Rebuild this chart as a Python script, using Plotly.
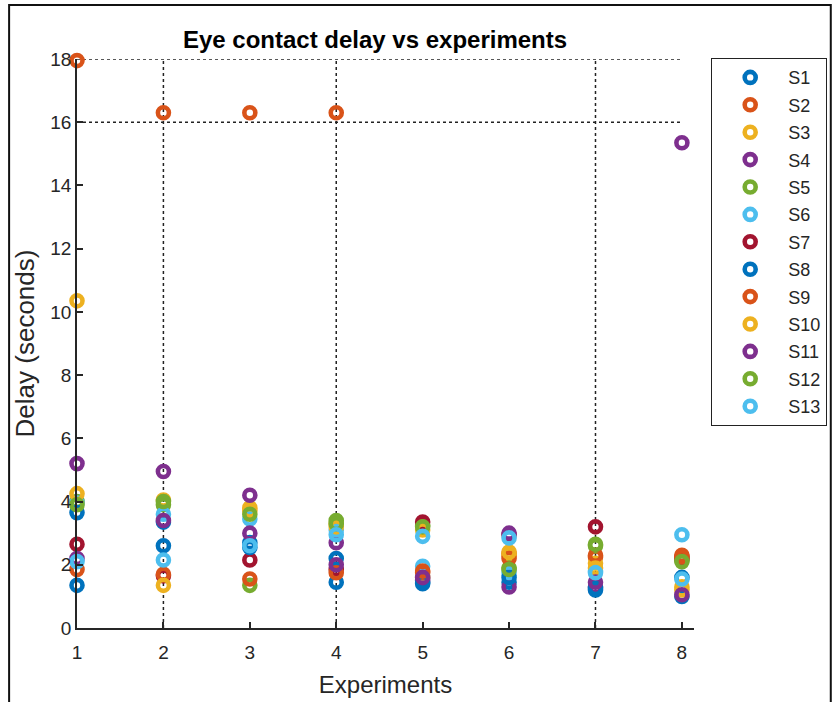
import plotly.graph_objects as go

# Experiment index on the x axis
experiments = [1, 2, 3, 4, 5, 6, 7, 8]

# Eye contact delay (seconds) per subject, one value per experiment
S1 = [1.35, 3.35, 2.70, 1.45, 1.40, 1.45, 1.20, 1.60]
S2 = [17.95, 16.30, 16.30, 16.30, 1.75, 2.35, 2.25, 2.30]
S3 = [10.35, 4.05, 3.80, 3.30, 1.60, 2.30, 2.05, 1.30]
S4 = [5.20, 4.95, 4.20, 2.70, 1.50, 1.30, 1.30, 15.35]
S5 = [4.00, 3.90, 1.35, 3.40, 3.25, 1.90, 2.60, 2.15]
S6 = [3.95, 3.60, 3.45, 3.10, 1.95, 1.75, 1.80, 2.95]
S7 = [2.65, 1.65, 2.15, 1.85, 3.35, 2.95, 3.20, 2.20]
S8 = [3.65, 2.60, 2.55, 2.20, 1.45, 1.60, 1.25, 1.00]
S9 = [1.85, 1.70, 1.55, 1.75, 1.80, 2.20, 2.30, 2.25]
S10 = [4.25, 1.35, 3.70, 3.20, 3.10, 2.40, 1.90, 1.20]
S11 = [2.20, 3.40, 3.00, 2.00, 1.60, 3.00, 1.45, 1.05]
S12 = [3.90, 4.00, 3.60, 3.30, 3.20, 1.85, 2.65, 2.10]
S13 = [2.10, 2.15, 2.60, 2.95, 2.90, 2.85, 1.75, 1.55]

subject_names = ["S1", "S2", "S3", "S4", "S5", "S6", "S7",
                 "S8", "S9", "S10", "S11", "S12", "S13"]
subject_values = [S1, S2, S3, S4, S5, S6, S7, S8, S9, S10, S11, S12, S13]

# Dotted reference lines
ref_y_levels = [16, 18]
ref_x_positions = [2, 4, 7]

y_ticks = [0, 2, 4, 6, 8, 10, 12, 14, 16, 18]

palette = ["#0072BD", "#D95319", "#EDB120", "#7E2F8E",
           "#77AC30", "#4DBEEE", "#A2142F"]

FONT = "Liberation Sans, Arial, sans-serif"
INK = "#262626"

fig = go.Figure()
for i, (name, vals) in enumerate(zip(subject_names, subject_values)):
    c = palette[i % len(palette)]
    fig.add_trace(go.Scatter(
        x=experiments, y=vals, mode="markers", name=name,
        legendgroup=name,
        cliponaxis=False,
        marker=dict(symbol="circle-open", size=11, color=c,
                    line=dict(width=4.6, color=c)),
    ))

# Plot-area geometry (pixels)
L, T, W, H = 77, 59, 618, 569
FIG_W, FIG_H = 838, 702

shapes = []
for yv in ref_y_levels:
    shapes.append(dict(type="line", xref="x", yref="y", x0=1, x1=8, y0=yv, y1=yv,
                       line=dict(color="#222222", width=1.5, dash="dot"), layer="below"))
for xv in ref_x_positions:
    shapes.append(dict(type="line", xref="x", yref="y", x0=xv, x1=xv, y0=0, y1=18,
                       line=dict(color="#222222", width=1.5, dash="dot"), layer="below"))

# Outer frame around the whole figure
def px_to_paper_x(px):
    return (px - L) / W

def px_to_paper_y(py):
    return (T + H - py) / H

shapes.append(dict(type="rect", xref="paper", yref="paper",
                   x0=px_to_paper_x(9), x1=px_to_paper_x(832),
                   y0=px_to_paper_y(712), y1=px_to_paper_y(5),
                   line=dict(color="#111111", width=2), fillcolor="rgba(0,0,0,0)"))

fig.update_layout(
    width=FIG_W, height=FIG_H,
    margin=dict(l=L, r=FIG_W - L - W, t=T, b=FIG_H - T - H),
    paper_bgcolor="white", plot_bgcolor="white",
    font=dict(family=FONT, color=INK, size=18),
    title=dict(text="<b>Eye contact delay vs experiments</b>",
               x=375 / FIG_W, xref="container", xanchor="center",
               y=1 - 40 / FIG_H, yref="container", yanchor="middle",
               font=dict(family=FONT, size=24, color="#000000")),
    shapes=shapes,
    showlegend=True,
    legend=dict(x=px_to_paper_x(711), xanchor="left",
                y=1 + 1 / H, yanchor="top",
                bordercolor="#222222", borderwidth=1.2,
                bgcolor="white", tracegroupgap=1, maxheight=600,
                font=dict(family=FONT, size=18, color=INK),
                itemwidth=66),
)

fig.update_xaxes(range=[1, 8.14], tickmode="array", tickvals=experiments,
                 ticks="inside", ticklen=6, tickwidth=1.5, tickcolor=INK,
                 showline=True, linecolor=INK, linewidth=1.5,
                 showgrid=False, zeroline=False, automargin=False,
                 ticklabelstandoff=6,
                 tickfont=dict(size=19, color=INK),
                 title=dict(text="Experiments", font=dict(size=24, color=INK), standoff=15))
fig.update_yaxes(range=[0, 18], tickmode="array", tickvals=y_ticks,
                 ticks="inside", ticklen=6, tickwidth=1.5, tickcolor=INK,
                 showline=True, linecolor=INK, linewidth=1.5,
                 showgrid=False, zeroline=False, automargin=False,
                 tickfont=dict(size=19, color=INK),
                 title=dict(text="Delay (seconds)", font=dict(size=26, color=INK), standoff=8))

fig.write_html("out.html")
